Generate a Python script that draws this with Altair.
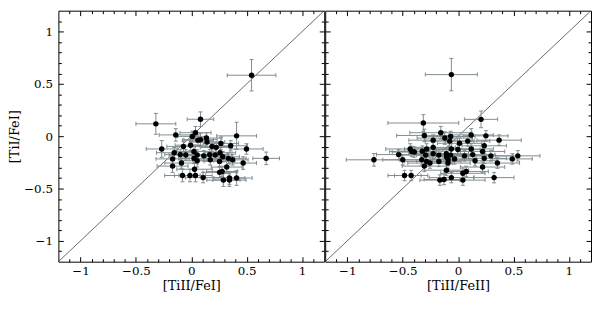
import altair as alt
import pandas as pd

# ---------------- data ----------------
# Left panel: [TiII/FeI] vs [TiI/FeI]
L_X = [0.544, -0.32, 0.083, -0.14, 0.038, 0.009, 0.409, 0.06, 0.083, 0.136,
       0.142, -0.267, 0.498, 0.676, -0.071, -0.006, 0.187, 0.225, 0.267, 0.356,
       -0.154, -0.10, -0.05, 0.024, 0.053, 0.113, 0.166, 0.216, 0.26, 0.284,
       0.335, 0.373, -0.169, 0.024, 0.053, 0.171, 0.255, 0.468, -0.169, -0.089,
       0.32, 0.029, 0.255, 0.278, -0.08, -0.012, 0.038, 0.107, 0.29, 0.344,
       0.344, 0.409]
L_Y = [0.583, 0.118, 0.162, 0.012, 0.033, -0.002, 0.003, -0.038, -0.033, -0.018,
       -0.056, -0.122, -0.122, -0.212, -0.098, -0.086, -0.098, -0.107, -0.069, -0.092,
       -0.158, -0.176, -0.18, -0.146, -0.18, -0.188, -0.176, -0.18, -0.158, -0.197,
       -0.212, -0.226, -0.217, -0.212, -0.235, -0.226, -0.241, -0.257, -0.286, -0.257,
       -0.295, -0.316, -0.346, -0.337, -0.376, -0.376, -0.376, -0.396, -0.42, -0.40,
       -0.42, -0.40]
L_EX = [0.22, 0.18, 0.12, 0.15, 0.14, 0.13, 0.18, 0.14, 0.15, 0.14,
        0.16, 0.14, 0.15, 0.12, 0.15, 0.14, 0.15, 0.14, 0.16, 0.15,
        0.16, 0.14, 0.15, 0.16, 0.14, 0.15, 0.16, 0.15, 0.14, 0.15,
        0.16, 0.14, 0.15, 0.14, 0.15, 0.16, 0.14, 0.12, 0.14, 0.15,
        0.14, 0.16, 0.15, 0.14, 0.16, 0.14, 0.15, 0.16, 0.15, 0.14,
        0.15, 0.14]
L_EY = [0.15, 0.10, 0.07, 0.06, 0.06, 0.05, 0.13, 0.05, 0.06, 0.05,
        0.05, 0.08, 0.05, 0.06, 0.05, 0.05, 0.05, 0.05, 0.06, 0.05,
        0.05, 0.05, 0.05, 0.06, 0.05, 0.05, 0.05, 0.05, 0.05, 0.05,
        0.05, 0.05, 0.05, 0.05, 0.06, 0.05, 0.05, 0.06, 0.06, 0.05,
        0.06, 0.06, 0.05, 0.05, 0.06, 0.06, 0.06, 0.05, 0.06, 0.06,
        0.06, 0.07]

# Right panel: [TiII/FeII] vs [TiI/FeI]
R_X = [-0.061, -0.76, -0.314, 0.207, -0.305, -0.156, -0.225, -0.12, -0.067, -0.537,
       -0.433, -0.418, -0.395, -0.50, -0.484, -0.424, -0.323, -0.284, -0.293, -0.328,
       -0.284, -0.254, -0.305, -0.225, -0.225, -0.174, -0.174, -0.105, -0.067, -0.091,
       -0.105, -0.127, -0.165, -0.061, 0.118, 0.251, 0.37, -0.076, 0.013, 0.087,
       0.236, -0.061, -0.002, 0.118, 0.221, -0.106, 0.058, 0.132, 0.296, 0.236,
       0.539, 0.489, -0.091, -0.032, 0.153, 0.355, 0.221, 0.073, 0.043, 0.325,
       0.043]
R_Y = [0.589, -0.226, 0.126, 0.161, 0.007, 0.033, -0.038, -0.018, -0.003, -0.176,
       -0.122, -0.146, -0.152, -0.226, -0.376, -0.376, -0.143, -0.122, -0.181, -0.226,
       -0.241, -0.257, -0.286, -0.107, -0.167, -0.181, -0.241, -0.197, -0.181, -0.257,
       -0.325, -0.414, -0.42, -0.396, 0.012, 0.003, -0.038, -0.047, -0.068, -0.047,
       -0.092, -0.122, -0.128, -0.122, -0.146, -0.167, -0.188, -0.176, -0.188, -0.212,
       -0.188, -0.217, -0.226, -0.217, -0.235, -0.257, -0.295, -0.337, -0.355, -0.396,
       -0.42]
R_EX = [0.235, 0.25, 0.32, 0.15, 0.25, 0.28, 0.22, 0.25, 0.22, 0.20,
        0.22, 0.20, 0.20, 0.18, 0.15, 0.15, 0.22, 0.20, 0.22, 0.20,
        0.20, 0.20, 0.20, 0.20, 0.22, 0.20, 0.20, 0.20, 0.20, 0.20,
        0.20, 0.18, 0.18, 0.20, 0.20, 0.20, 0.20, 0.22, 0.20, 0.20,
        0.20, 0.20, 0.20, 0.20, 0.20, 0.20, 0.20, 0.20, 0.20, 0.20,
        0.20, 0.18, 0.20, 0.20, 0.20, 0.20, 0.20, 0.20, 0.20, 0.18,
        0.20]
R_EY = [0.155, 0.06, 0.08, 0.08, 0.06, 0.06, 0.05, 0.06, 0.05, 0.05,
        0.05, 0.05, 0.05, 0.05, 0.05, 0.05, 0.05, 0.05, 0.05, 0.05,
        0.05, 0.05, 0.05, 0.05, 0.05, 0.05, 0.05, 0.05, 0.05, 0.05,
        0.05, 0.05, 0.05, 0.05, 0.06, 0.05, 0.05, 0.05, 0.05, 0.05,
        0.05, 0.05, 0.05, 0.05, 0.05, 0.05, 0.05, 0.05, 0.05, 0.05,
        0.05, 0.05, 0.05, 0.05, 0.05, 0.05, 0.05, 0.05, 0.05, 0.05,
        0.05]

DOMAIN = [-1.2, 1.2]
DIAG = [-1.2, 1.2]
MAJOR_VALUES = [-1, -0.5, 0, 0.5, 1]
TICK_VALUES = [-1.1, -1.0, -0.9, -0.8, -0.7, -0.6, -0.5, -0.4, -0.3, -0.2, -0.1,
               0.0, 0.1, 0.2, 0.3, 0.4, 0.5, 0.6, 0.7, 0.8, 0.9, 1.0, 1.1]

Y_TITLE = "[TiI/FeI]"
L_XTITLE = "[TiII/FeI]"
R_XTITLE = "[TiII/FeII]"

# ---------------- style ----------------
W = 269
H = 254
EB_COLOR = "#7f8b91"
FONT = "DejaVu Serif"

TICK_SIZE = {"condition": {"test": "abs(datum.value*2 - round(datum.value*2)) < 0.001",
                           "value": 5},
             "value": 3}


def inner_axis(orient, offset):
    return alt.Axis(orient=orient, offset=offset, values=TICK_VALUES, labels=False,
                    domain=False, grid=False, title=None, ticks=True,
                    tickSize=TICK_SIZE, tickColor="black", tickWidth=1)


def panel(xs, ys, exs, eys, xtitle, show_y):
    scale = alt.Scale(domain=DOMAIN, nice=False, zero=False)
    df = pd.DataFrame({"x": xs, "y": ys, "ex": exs, "ey": eys})
    base = alt.Chart(df).transform_calculate(
        xlo="datum.x - datum.ex", xhi="datum.x + datum.ex",
        ylo="datum.y - datum.ey", yhi="datum.y + datum.ey")

    label_x = alt.Axis(orient="bottom", values=MAJOR_VALUES, format="~g", ticks=False,
                       domain=False, grid=False, labelPadding=4, title=xtitle,
                       titlePadding=3)
    if show_y:
        label_y = alt.Axis(orient="left", values=MAJOR_VALUES, format="~g", ticks=False,
                           domain=False, grid=False, labelPadding=6, title=Y_TITLE,
                           titlePadding=2)
    else:
        label_y = None

    diag_df = pd.DataFrame({"dx": DIAG, "dy": DIAG})
    diag = alt.Chart(diag_df).mark_line(color="#444444", strokeWidth=0.8, clip=True).encode(
        x=alt.X("dx:Q", scale=scale, axis=label_x),
        y=alt.Y("dy:Q", scale=scale, axis=label_y))

    exr = base.mark_rule(color=EB_COLOR, strokeWidth=1).encode(
        x=alt.X("xlo:Q", scale=scale, axis=inner_axis("top", -H)),
        x2="xhi:Q",
        y=alt.Y("y:Q", scale=scale, axis=inner_axis("right", -W)))
    eyr = base.mark_rule(color=EB_COLOR, strokeWidth=1).encode(
        x=alt.X("x:Q", scale=scale, axis=inner_axis("bottom", -H)),
        y=alt.Y("ylo:Q", scale=scale, axis=inner_axis("left", -W)),
        y2="yhi:Q")

    caps = []
    for f in ["xlo", "xhi"]:
        caps.append(base.mark_tick(orient="vertical", size=4, thickness=1,
                                   color=EB_COLOR, opacity=1).encode(
            x=alt.X(f + ":Q", scale=scale, axis=None),
            y=alt.Y("y:Q", scale=scale, axis=None)))
    for f in ["ylo", "yhi"]:
        caps.append(base.mark_tick(orient="horizontal", size=4, thickness=1,
                                   color=EB_COLOR, opacity=1).encode(
            x=alt.X("x:Q", scale=scale, axis=None),
            y=alt.Y(f + ":Q", scale=scale, axis=None)))

    pts = base.mark_circle(size=30, color="black", opacity=1).encode(
        x=alt.X("x:Q", scale=scale, axis=None),
        y=alt.Y("y:Q", scale=scale, axis=None))

    return alt.layer(diag, exr, eyr, *caps, pts).resolve_axis(
        x="independent", y="independent").properties(width=W, height=H)


left = panel(L_X, L_Y, L_EX, L_EY, L_XTITLE, True)
right = panel(R_X, R_Y, R_EX, R_EY, R_XTITLE, False)

chart = alt.hconcat(left, right, spacing=-4).properties(
    padding={"left": 0, "top": 0, "right": 0, "bottom": 0},
    background="white"
).configure_view(
    stroke="black", strokeWidth=1
).configure_axis(
    labelFont=FONT, titleFont=FONT, labelFontSize=12, titleFontSize=13,
    titleFontWeight="normal", labelColor="black", titleColor="black", grid=False
)

chart.save("out.html", embed_options={"renderer": "svg", "actions": False})
